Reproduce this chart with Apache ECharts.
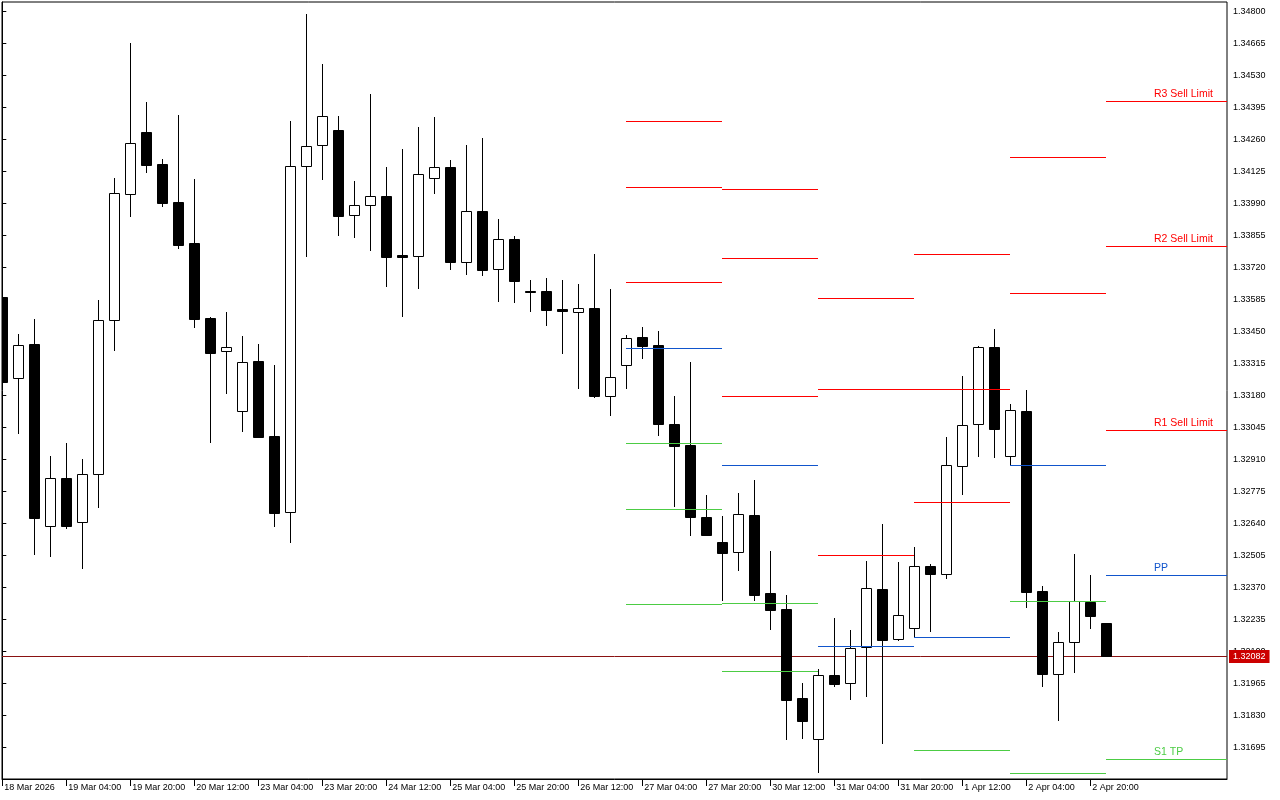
<!DOCTYPE html>
<html>
<head>
<meta charset="utf-8">
<style>
html,body{margin:0;padding:0;background:#fff;}
#chart{width:1280px;height:800px;}
</style>
<script src="https://cdn.jsdelivr.net/npm/echarts@6/dist/echarts.min.js"></script>
</head>
<body>
<div id="chart"></div>
<script>
// ---- data (H4 candles, 18 Mar 2026 12:00 -> 3 Apr 2026 00:00) ----
const xTickIdx = [0,4,8,12,16,20,24,28,32,36,40,44,48,52,56,60,64,68];
const xTickLabels = ['18 Mar 2026','19 Mar 04:00','19 Mar 20:00','20 Mar 12:00','23 Mar 04:00','23 Mar 20:00','24 Mar 12:00','25 Mar 04:00','25 Mar 20:00','26 Mar 12:00','27 Mar 04:00','27 Mar 20:00','30 Mar 12:00','31 Mar 04:00','31 Mar 20:00','1 Apr 12:00','2 Apr 04:00','2 Apr 20:00'];
const yTicks = [1.31695,1.31830,1.31965,1.32100,1.32235,1.32370,1.32505,1.32640,1.32775,1.32910,1.33045,1.33180,1.33315,1.33450,1.33585,1.33720,1.33855,1.33990,1.34125,1.34260,1.34395,1.34530,1.34665,1.34800];

const opens = [1.33596,1.33252,1.33396,1.32627,1.32830,1.32644,1.32847,1.33496,1.34028,1.34291,
1.34156,1.33995,1.33822,1.33506,1.33366,1.33112,1.33325,1.33008,1.32686,1.34146,
1.34235,1.34299,1.33939,1.33982,1.34020,1.33772,1.33769,1.34098,1.34143,1.33744,
1.33957,1.33712,1.33839,1.33618,1.33620,1.33542,1.33533,1.33548,1.33178,1.33307,
1.33426,1.33392,1.33059,1.32970,1.32667,1.32560,1.32520,1.32675,1.32345,1.32278,
1.31903,1.31729,1.31999,1.31965,1.32118,1.32363,1.32151,1.32197,1.32461,1.32425,
1.32880,1.33058,1.33382,1.32923,1.33114,1.32354,1.32005,1.32138,1.32309,1.32219];
const closes = [1.33237,1.33391,1.32664,1.32830,1.32630,1.32847,1.33496,1.34032,1.34243,1.34153,
1.33993,1.33815,1.33503,1.33360,1.33382,1.33319,1.33005,1.32685,1.34146,1.34230,
1.34357,1.33938,1.33982,1.34020,1.33765,1.33765,1.34114,1.34142,1.33744,1.33957,
1.33710,1.33838,1.33663,1.33614,1.33541,1.33536,1.33547,1.33177,1.33256,1.33420,
1.33389,1.33060,1.32967,1.32668,1.32592,1.32516,1.32678,1.32339,1.32275,1.31896,
1.31807,1.31999,1.31963,1.32113,1.32366,1.32149,1.32253,1.32460,1.32425,1.32886,
1.33053,1.33382,1.33039,1.33117,1.32351,1.32005,1.32138,1.32311,1.32250,1.32082];
const highs = [1.33612,1.33439,1.33502,1.32924,1.32979,1.32911,1.33582,1.34097,1.34666,1.34417,
1.34177,1.34362,1.34092,1.33510,1.33531,1.33430,1.33396,1.33308,1.34337,1.34789,
1.34578,1.34358,1.34084,1.34451,1.34143,1.34219,1.34312,1.34354,1.34173,1.34236,
1.34265,1.33924,1.33852,1.33666,1.33675,1.33666,1.33650,1.33776,1.33628,1.33434,
1.33468,1.33451,1.33177,1.33320,1.32759,1.32671,1.32768,1.32823,1.32523,1.32337,
1.31966,1.32025,1.32240,1.32190,1.32481,1.32637,1.32477,1.32540,1.32467,1.33004,
1.33261,1.33387,1.33460,1.33143,1.33202,1.32375,1.32181,1.32510,1.32422,1.32221];
const lows = [1.33228,1.33022,1.32512,1.32503,1.32621,1.32453,1.32710,1.33372,1.33938,1.34123,
1.33980,1.33803,1.33469,1.32984,1.33191,1.33031,1.33002,1.32630,1.32562,1.33769,
1.34094,1.33858,1.33849,1.33794,1.33642,1.33516,1.33634,1.34035,1.33714,1.33693,
1.33689,1.33579,1.33575,1.33537,1.33478,1.33360,1.33212,1.33173,1.33097,1.33212,
1.33339,1.33012,1.32713,1.32592,1.32589,1.32318,1.32444,1.32318,1.32195,1.31731,
1.31735,1.31590,1.31955,1.31900,1.31913,1.31714,1.32148,1.32159,1.32187,1.32410,
1.32765,1.32925,1.32921,1.32891,1.32288,1.31955,1.31811,1.32014,1.32198,1.32080];
const lastPrice = 1.32082;

// daily pivot levels (27 Mar, 30 Mar, 31 Mar, 1 Apr, 2 Apr, 3 Apr)
const levelDays = ['27 Mar','30 Mar','31 Mar','1 Apr','2 Apr','3 Apr'];
const dayStartIdx = [39,45,51,57,63,69];
const dayEndIdx = [45,51,57,63,69,null];
const R3 = [1.34336,1.34049,1.33591,1.33775,null,1.34420];
const R2 = [1.34057,1.33758,1.33205,1.33205,1.34184,1.33809];
const R1 = [1.33657,1.33176,1.32505,1.32729,1.33610,1.33032];
const PP = [1.33378,1.32885,1.32121,1.32159,1.32885,1.32421];
const S1 = [1.32977,1.32302,null,1.31682,1.32311,1.31644];
const S2 = [1.32699,1.32016,null,null,1.31585,null];
const S3 = [1.32298,null,null,null,null,null];
const lastDayLabels = {R3:'R3 Sell Limit', R2:'R2 Sell Limit', R1:'R1 Sell Limit', PP:'PP', S1:'S1 TP'};

// ---- layout / style ----
const X_MIN = -0.019, X_MAX = 76.544;
const Y_MIN = 1.315612, Y_MAX = 1.348392;
const RED = '#ff0000', BLUE = '#1155cc', GREEN = '#4ccc44';
const FONT = '"Liberation Sans", Arial, sans-serif';

const candleData = opens.map((o, i) => [i, o, closes[i], lows[i], highs[i]]);

const levelSets = [['R3',R3,RED],['R2',R2,RED],['R1',R1,RED],['PP',PP,BLUE],['S1',S1,GREEN],['S2',S2,GREEN],['S3',S3,GREEN]];
const levelItems = [];
dayStartIdx.forEach((s, d) => {
  const e = dayEndIdx[d] == null ? X_MAX : dayEndIdx[d];
  const isLast = d === dayStartIdx.length - 1;
  levelSets.forEach(([name, arr, color]) => {
    if (arr[d] == null) return;
    levelItems.push({x0: s, x1: e, y: arr[d], color, label: isLast ? (lastDayLabels[name] || '') : ''});
  });
});

function renderCandle(params, api) {
  const i = api.value(0), o = api.value(1), c = api.value(2), l = api.value(3), h = api.value(4);
  const pO = api.coord([i, o]), pC = api.coord([i, c]), pL = api.coord([i, l]), pH = api.coord([i, h]);
  const cx = Math.round(pO[0]) + 0.5;
  const bull = c >= o;
  let top = Math.round(Math.min(pO[1], pC[1])) + 0.5;
  let bot = Math.round(Math.max(pO[1], pC[1])) + 0.5;
  if (bot - top < 1) bot = top + 1;
  return {
    type: 'group',
    children: [
      {type: 'line', shape: {x1: cx, y1: Math.round(pH[1]), x2: cx, y2: Math.round(pL[1]) + 1},
       style: {stroke: '#000', lineWidth: 1}},
      {type: 'rect', shape: {x: cx - 5, y: top, width: 10, height: bot - top},
       style: {fill: bull ? '#ffffff' : '#000000', stroke: '#000', lineWidth: 1}}
    ]
  };
}

function renderLevel(params, api) {
  const it = levelItems[params.dataIndex];
  const p0 = api.coord([it.x0, it.y]);
  const p1 = api.coord([it.x1, it.y]);
  const y = Math.round(p0[1]) + 0.5;
  const children = [
    {type: 'line', shape: {x1: Math.round(p0[0]), y1: y, x2: Math.round(p1[0]), y2: y},
     style: {stroke: it.color, lineWidth: 1}}
  ];
  if (it.label) {
    const pl = api.coord([it.x0 + 3, it.y]);
    children.push({type: 'text', style: {text: it.label, x: Math.round(pl[0]), y: y - 2,
      fill: it.color, font: '10.5px ' + FONT, align: 'left', verticalAlign: 'bottom'}});
  }
  return {type: 'group', children};
}

function renderPriceLine(params, api) {
  const v = api.value(0);
  const p0 = api.coord([X_MIN, v]);
  const p1 = api.coord([X_MAX, v]);
  const y = Math.round(p0[1]) + 0.5;
  return {
    type: 'group',
    children: [
      {type: 'line', shape: {x1: Math.round(p0[0]), y1: y, x2: Math.round(p1[0]), y2: y},
       style: {stroke: '#8a1212', lineWidth: 1}},
      {type: 'text', style: {text: v.toFixed(5), x: Math.round(p1[0]) + 2, y: y,
        fill: '#ffffff', font: '9px ' + FONT, align: 'left', verticalAlign: 'middle',
        backgroundColor: '#cc0000', padding: [2, 4, 2, 4]}}
    ]
  };
}

const chart = echarts.init(document.getElementById('chart'), null, {renderer: 'canvas'});
chart.setOption({
  animation: false,
  backgroundColor: '#ffffff',
  grid: {left: 2, top: 2, width: 1225, height: 777, show: true, borderColor: '#000', borderWidth: 1, containLabel: false},
  xAxis: {
    type: 'value', min: X_MIN, max: X_MAX, position: 'bottom',
    splitLine: {show: false},
    axisLine: {show: true, lineStyle: {color: '#000', width: 1}},
    axisTick: {show: true, length: 7, lineStyle: {color: '#000'}, customValues: xTickIdx},
    axisLabel: {
      customValues: xTickIdx, color: '#000', fontFamily: FONT, fontSize: 9, align: 'left', margin: 4,
      padding: [0, 0, 0, 2],
      formatter: v => { const k = xTickIdx.indexOf(Math.round(v)); return k >= 0 ? xTickLabels[k] : ''; }
    }
  },
  yAxis: {
    type: 'value', position: 'right', min: Y_MIN, max: Y_MAX, scale: true,
    splitLine: {show: false},
    axisLine: {show: true, lineStyle: {color: '#000', width: 1}},
    axisTick: {show: true, length: 4, inside: false, lineStyle: {color: '#000'}, customValues: yTicks},
    axisLabel: {customValues: yTicks, color: '#000', fontFamily: FONT, fontSize: 9, margin: 6,
      formatter: v => v.toFixed(5)}
  },
  series: [
    {
      type: 'custom', name: 'Last price', renderItem: renderPriceLine, data: [[lastPrice]],
      clip: false, z: 1, silent: true, encode: {y: 0}
    },
    {
      type: 'custom', name: 'GBPUSD H4', renderItem: renderCandle, data: candleData, clip: true, z: 3,
      encode: {x: 0, y: [1, 2, 3, 4]}, silent: true
    },
    {
      type: 'custom', name: 'Pivots', renderItem: renderLevel,
      data: levelItems.map(it => [it.x0, it.x1, it.y]), clip: true, z: 4,
      encode: {x: [0, 1], y: 2}, silent: true
    }
  ]
});
</script>
</body>
</html>
